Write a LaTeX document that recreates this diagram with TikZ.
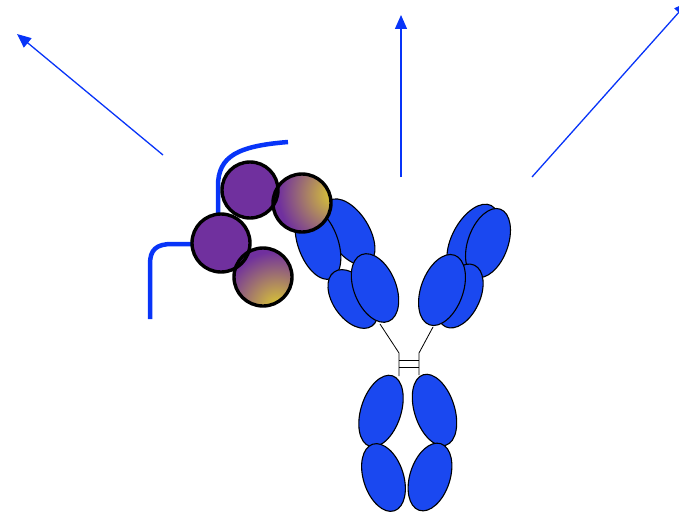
\documentclass[tikz,border=0pt]{standalone}
\usetikzlibrary{arrows.meta}
\definecolor{abblue}{RGB}{26,72,240}
\definecolor{lineblue}{RGB}{8,52,248}
\definecolor{agpurple}{RGB}{112,48,158}
\definecolor{agyellow}{RGB}{222,204,48}
\begin{document}
\begin{tikzpicture}[x=1pt,y=-1pt,
  dom/.style={draw=black,line width=1.1pt,fill=abblue},
  hinge/.style={draw=black,line width=0.8pt},
  arr/.style={draw=lineblue,line width=1.3pt,-{Triangle[length=14pt,width=12pt]}},
  tether/.style={draw=lineblue,line width=4.5pt},
  bead/.style={draw=black,line width=3.4pt},
  ]
\useasboundingbox (0,0) rectangle (679,519);

% outgoing arrows
\coordinate (a1s) at (163,155); \coordinate (a1e) at (17,34);
\coordinate (a2s) at (401,177); \coordinate (a2e) at (401,15);
\coordinate (a3s) at (532,177); \coordinate (a3e) at (688,2);
\draw[arr] (a1s) -- (a1e);
\draw[arr] (a2s) -- (a2e);
\draw[arr] (a3s) -- (a3e);

% tethers
\draw[tether] (218,213) -- (218,186) .. controls (218,156) and (238,146) .. (288,142);
\draw[tether] (150,319) -- (150,264) .. controls (150,250) and (156,244) .. (172,244) -- (194,244);

% hinge and disulfide bonds
\coordinate (hl) at (399,353); \coordinate (hr) at (419,353);
\draw[hinge] (380,324) -- (hl) -- (399,376);
\draw[hinge] (433,327) -- (hr) -- (419,375);
\draw[hinge] (hl |- 0,360) -- (hr |- 0,360);
\draw[hinge] (hl |- 0,367) -- (hr |- 0,367);

% Fc region
\draw[dom,rotate around={-18:(381,411)}] (381,411) ellipse [x radius=20, y radius=37];
\draw[dom,rotate around={18:(383.5,477.5)}] (383.5,477.5) ellipse [x radius=20, y radius=35];
\draw[dom,rotate around={18:(434.5,410)}] (434.5,410) ellipse [x radius=20, y radius=37];
\draw[dom,rotate around={-18:(430,477)}] (430,477) ellipse [x radius=20, y radius=35];

% left Fab
\draw[dom,rotate around={32:(349,232)}] (349,232) ellipse [x radius=20, y radius=37];
\draw[dom,rotate around={20:(318,243)}] (318,243) ellipse [x radius=20, y radius=38];
\draw[dom,rotate around={35:(353,299)}] (353,299) ellipse [x radius=20, y radius=33];
\draw[dom,rotate around={22:(375,288)}] (375,288) ellipse [x radius=21, y radius=36];

% right Fab
\draw[dom,rotate around={-28:(473,240)}] (473,240) ellipse [x radius=21, y radius=39];
\draw[dom,rotate around={-20:(488,243)}] (488,243) ellipse [x radius=20, y radius=36];
\draw[dom,rotate around={-25:(460,296)}] (460,296) ellipse [x radius=20, y radius=34];
\draw[dom,rotate around={-20:(442,290)}] (442,290) ellipse [x radius=21, y radius=37];

% bound antigen beads
\fill[agpurple] (250,190) circle (28);
\fill[agpurple] (221,243) circle (29);
\begin{scope}
  \clip (302,203) circle (29);
  \fill[agpurple] (302,203) circle (29);
  \shade[inner color=agyellow, outer color=agpurple] (334,194) circle (56);
\end{scope}
\begin{scope}
  \clip (263,277) circle (29);
  \fill[agpurple] (263,277) circle (29);
  \shade[inner color=agyellow, outer color=agpurple] (277,307) circle (56);
\end{scope}
\draw[bead] (250,190) circle (28);
\draw[bead] (302,203) circle (29);
\draw[bead] (221,243) circle (29);
\draw[bead] (263,277) circle (29);
\end{tikzpicture}
\end{document}
